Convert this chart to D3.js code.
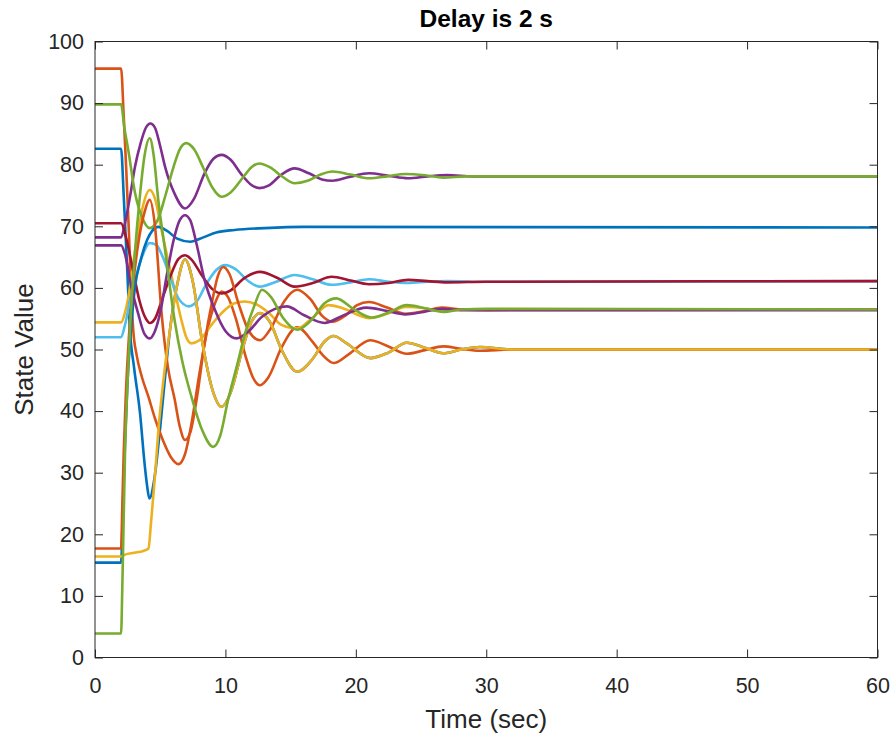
<!DOCTYPE html>
<html>
<head>
<meta charset="utf-8">
<script src="https://cdn.jsdelivr.net/npm/d3@7"></script>
<style>
  body { margin: 0; background: #fff; }
  svg { display: block; font-family: "Liberation Sans", Arial, Helvetica, sans-serif; }
  .axis text { fill: #262626; font-size: 21.5px; }
  .axis line { stroke: #262626; }
</style>
</head>
<body>
<div id="chart"><svg></svg></div>
<script>
// State trajectories, [time (s), value]
const blueA = [[0,82.6],[2,82.6],[2.2,75],[2.45,64],[2.68,53.2],[3.0,47],[3.45,39.7],[3.8,31.5],[4.0,27.8],[4.17,25.8],[4.55,29],[4.98,36.9],[5.35,45],[5.75,53.2],[6.3,60.5],[6.9,64.6],[7.5,61],[8.2,51.5],[9.0,43.5],[9.7,40.7],[10.4,43],[11.3,50],[12.0,54.5],[12.65,55.9],[13.4,54.5],[14.3,50],[15.5,46.4],[16.7,48.5],[17.6,51.3],[18.3,52.2],[19.3,51],[21.1,48.6],[22.5,49.5],[23.9,51.1],[25.3,50.3],[26.7,49.4],[28.1,50],[29.5,50.4],[32,50],[60,50]];
const orangeA = [[0,95.6],[2,95.6],[2.2,88],[2.4,79],[2.6,69],[2.8,58],[2.93,53.2],[3.2,49],[3.6,45.5],[4.1,42.3],[4.6,38.8],[5.2,35.3],[5.8,32.6],[6.4,31.4],[6.9,33],[7.4,38],[8.0,46],[8.6,53],[9.2,57.5],[9.7,59.4],[10.2,58.5],[10.8,55],[11.6,48.5],[12.1,45.5],[12.65,44.2],[13.3,45.5],[14.3,50.3],[15.5,53.6],[16.7,51.2],[17.5,49],[18.3,47.8],[19.5,49.3],[21.1,51.5],[22.5,50.5],[23.9,49.3],[25.3,49.9],[26.7,50.5],[28.1,50.1],[29.5,49.8],[32,50],[60,50]];
const yellowA = [[0,54.4],[2,54.4],[2.3,56],[2.6,59],[2.93,64],[3.3,69],[3.7,73.5],[4.2,75.9],[4.6,74.5],[5.1,69.4],[5.6,64.5],[6.1,59.7],[6.6,55],[7.0,52],[7.4,51.0],[8.0,51.5],[9.0,54.2],[10.0,56.5],[10.7,57.5],[11.5,57.8],[12.4,57.3],[13.4,55.8],[14.3,54],[15.5,53.4],[16.7,55.2],[17.9,57.2],[19.0,56.7],[21.0,55.1],[22.4,55.8],[23.8,56.9],[25.3,56.7],[26.7,56.2],[28.1,56.5],[30,56.5],[60,56.5]];
const purpleA = [[0,68.2],[2,68.2],[2.3,70.5],[2.7,75],[3.07,79.7],[3.5,83.5],[3.9,86],[4.25,86.7],[4.6,86],[5.0,83],[5.37,79.7],[6.1,75.3],[6.9,72.9],[7.6,74.5],[8.4,78.6],[9.1,81],[9.7,81.6],[10.4,80.8],[11.2,78.5],[12.0,76.7],[12.6,76.2],[13.3,76.6],[14.3,78.4],[15.3,79.4],[16.4,78.6],[17.4,77.6],[18.2,77.4],[19.5,78],[21,78.6],[22.5,78.2],[24,77.8],[25.5,78.1],[27,78.3],[29,78.1],[60,78.1]];
const greenA = [[0,89.8],[2,89.8],[2.25,86],[2.55,82.4],[3.07,75.4],[3.6,71.5],[4.2,69.7],[4.8,71],[5.4,75],[6.0,79.5],[6.5,82.5],[7.0,83.5],[7.6,82.5],[8.3,79.5],[9.0,76.3],[9.7,74.8],[10.4,75.5],[11.3,77.8],[12.0,79.6],[12.6,80.2],[13.4,79.6],[14.4,78],[15.3,77.0],[16.3,77.4],[17.3,78.4],[18.2,78.9],[19.6,78.4],[21,77.8],[22.4,78.1],[23.8,78.5],[25.3,78.3],[26.7,77.9],[28.5,78.1],[60,78.1]];
const lightBlue = [[0,52],[2,52],[2.3,54],[2.7,58],[3.1,61.5],[3.6,65],[4.2,67.3],[4.7,67],[5.2,65],[5.8,61.5],[6.4,58.3],[7.2,57],[7.8,57.8],[8.5,60.5],[9.3,62.9],[10.0,63.7],[10.8,63],[11.7,61.2],[12.6,60.2],[13.9,61],[15.3,62.1],[16.7,61.4],[18.15,60.5],[19.6,60.9],[21,61.4],[22.5,61],[24,60.8],[25.5,61],[27,61.1],[30,61],[60,61.1]];
const darkRed = [[0,70.5],[2,70.5],[2.4,68],[2.9,63],[3.4,58],[3.9,55],[4.2,54.3],[4.6,55],[5.2,58.5],[5.8,62],[6.4,64.7],[6.9,65.3],[7.4,64.6],[8.2,62],[9.0,59.8],[9.7,59.1],[10.4,59.6],[11.4,61.5],[12.65,62.6],[14,61.6],[15.3,60.2],[16.7,60.8],[18.15,61.8],[19.6,61.2],[21,60.6],[22.5,60.8],[24,61.3],[25.5,61.1],[27,60.9],[30,61],[60,61.1]];
const blueB = [[0,15.4],[2,15.4],[2.15,25],[2.3,35],[2.5,45],[2.75,53],[3.07,60.2],[3.5,64.5],[4.0,67.8],[4.4,69.3],[4.85,69.9],[5.5,69.3],[6.3,68],[7.3,67.5],[8.3,68.2],[9.3,69],[10.7,69.4],[13,69.7],[16,69.9],[60,69.8]];
const orangeB = [[0,17.7],[2,17.7],[2.1,25],[2.2,33],[2.35,42],[2.6,52],[2.9,60],[3.3,67],[3.8,72.3],[4.2,74.3],[4.6,70],[5.1,56],[5.6,47],[6.1,42],[6.5,37.5],[6.9,35.3],[7.3,36.5],[7.8,42],[8.4,51],[9.0,58],[9.4,61.8],[9.84,63.4],[10.3,62.3],[11.0,57.5],[11.8,53],[12.65,51.5],[13.5,53.5],[14.5,57.8],[15.5,59.7],[16.5,58.2],[17.4,55.5],[18.2,54.5],[19.2,55.5],[20.1,57.2],[21,57.7],[22.4,56.8],[23.8,55.8],[25.2,56.2],[26.6,56.8],[28,56.5],[30,56.4],[60,56.5]];
const yellowB = [[0,16.4],[2,16.4],[2.3,16.7],[3.0,17.0],[3.7,17.3],[4.1,17.7],[4.3,22],[4.6,29.5],[4.86,36.9],[5.3,46],[5.75,53.2],[6.3,60.5],[6.9,64.6],[7.5,61],[8.2,51.5],[9.0,43.5],[9.7,40.7],[10.4,43],[11.3,50],[12.0,54.5],[12.65,55.9],[13.4,54.5],[14.3,50],[15.5,46.4],[16.7,48.5],[17.6,51.3],[18.3,52.2],[19.3,51],[21.1,48.6],[22.5,49.5],[23.9,51.1],[25.3,50.3],[26.7,49.4],[28.1,50],[29.5,50.4],[32,50],[60,50]];
const purpleB = [[0,66.9],[2,66.9],[2.3,65.5],[2.8,60],[3.3,55.9],[3.8,52.5],[4.2,51.8],[4.6,53],[5.0,56],[5.5,62],[6.0,67.5],[6.5,71],[6.9,71.8],[7.3,71],[7.8,67],[8.4,61.3],[9.2,56.4],[10.0,53],[10.86,51.8],[11.8,53],[12.8,55.3],[13.8,56.6],[14.7,57.0],[16.0,55.6],[17.6,54.3],[19.0,55.5],[20.8,56.8],[22.3,56.3],[23.8,55.7],[25.2,56.1],[26.6,56.6],[28,56.4],[30,56.4],[60,56.4]];
const greenB = [[0,3.9],[2,3.9],[2.1,12],[2.3,33],[2.5,45],[2.7,54],[3.0,64],[3.4,74],[3.8,81.5],[4.2,84.3],[4.5,81.5],[4.85,74.3],[5.37,66.2],[6.1,54.8],[6.7,48],[7.4,42.3],[8.2,37],[9.07,34.2],[9.6,36],[10.2,41.8],[10.9,47.5],[11.5,52.6],[12.2,57],[12.8,59.7],[13.5,58.5],[14.4,55.2],[15.5,53.2],[16.6,54.8],[17.6,57.5],[18.5,58.3],[19.8,56.6],[21.2,55.2],[22.5,56],[23.9,57.2],[25.3,56.7],[26.7,56.1],[28.1,56.5],[30,56.6],[60,56.5]];

// plotting order follows the default colour cycle
const series = [blueA, orangeA, yellowA, purpleA, greenA, lightBlue, darkRed, blueB, orangeB, yellowB, purpleB, greenB];
const seriesColors = ['#0072BD', '#D95319', '#EDB120', '#7E2F8E', '#77AC30', '#4DBEEE', '#A2142F'];

const xTicks = [0, 10, 20, 30, 40, 50, 60];
const yTicks = [0, 10, 20, 30, 40, 50, 60, 70, 80, 90, 100];

class LinePlot {
  constructor(_config, _data) {
    this.config = {
      parentElement: _config.parentElement,
      containerWidth: _config.containerWidth || 895,
      containerHeight: _config.containerHeight || 740,
      margin: _config.margin || { top: 41.5, right: 17.5, bottom: 82.5, left: 95 }
    };
    this.data = _data;
    this.initVis();
  }

  initVis() {
    let vis = this;
    vis.width = vis.config.containerWidth - vis.config.margin.left - vis.config.margin.right;
    vis.height = vis.config.containerHeight - vis.config.margin.top - vis.config.margin.bottom;

    vis.xScale = d3.scaleLinear().domain([0, 60]).range([0, vis.width]);
    vis.yScale = d3.scaleLinear().domain([0, 100]).range([vis.height, 0]);

    vis.svg = d3.select(vis.config.parentElement).select('svg')
      .attr('width', vis.config.containerWidth)
      .attr('height', vis.config.containerHeight);

    vis.chart = vis.svg.append('g')
      .attr('transform', `translate(${vis.config.margin.left},${vis.config.margin.top})`);

    vis.line = d3.line()
      .x(d => vis.xScale(d[0]))
      .y(d => vis.yScale(d[1]))
      .curve(d3.curveMonotoneX);

    // Title and axis titles
    vis.svg.append('text')
      .attr('text-anchor', 'middle')
      .attr('x', vis.config.margin.left + vis.width / 2)
      .attr('y', 27)
      .style('fill', '#000')
      .style('font-size', '24.5px')
      .style('font-weight', 'bold')
      .text('Delay is 2 s');

    vis.svg.append('text')
      .attr('text-anchor', 'middle')
      .attr('x', vis.config.margin.left + vis.width / 2)
      .attr('y', 728)
      .style('fill', '#262626')
      .style('font-size', '26px')
      .text('Time (sec)');

    vis.svg.append('text')
      .attr('text-anchor', 'middle')
      .attr('transform', 'rotate(-90)')
      .attr('x', -(vis.config.margin.top + vis.height / 2))
      .attr('y', 33)
      .style('fill', '#262626')
      .style('font-size', '26px')
      .text('State Value');
  }

  renderVis() {
    let vis = this;

    vis.chart.selectAll('.state')
      .data(vis.data)
      .join('path')
      .attr('class', 'state')
      .attr('fill', 'none')
      .attr('stroke', (d, i) => seriesColors[i % seriesColors.length])
      .attr('stroke-width', 2.6)
      .attr('stroke-linejoin', 'round')
      .attr('d', vis.line);

    // box with inward ticks on all four sides
    const axes = [
      { axis: d3.axisBottom(vis.xScale).tickValues(xTicks).tickSize(-8).tickPadding(20), t: `translate(0,${vis.height})` },
      { axis: d3.axisTop(vis.xScale).tickValues(xTicks).tickSize(-8).tickFormat(''), t: 'translate(0,0)' },
      { axis: d3.axisLeft(vis.yScale).tickValues(yTicks).tickSize(-8).tickPadding(11), t: 'translate(0,0)' },
      { axis: d3.axisRight(vis.yScale).tickValues(yTicks).tickSize(-8).tickFormat(''), t: `translate(${vis.width},0)` }
    ];
    axes.forEach(a => {
      vis.chart.append('g')
        .attr('class', 'axis')
        .attr('transform', a.t)
        .call(a.axis)
        .call(g => g.select('.domain').remove())
        .call(g => g.selectAll('text').style('font-family', null));
    });

    vis.chart.append('rect')
      .attr('width', vis.width)
      .attr('height', vis.height)
      .attr('fill', 'none')
      .attr('stroke', '#262626')
      .attr('stroke-width', 1);
  }
}

const plot = new LinePlot({ parentElement: '#chart' }, series);
plot.renderVis();
</script>
</body>
</html>
